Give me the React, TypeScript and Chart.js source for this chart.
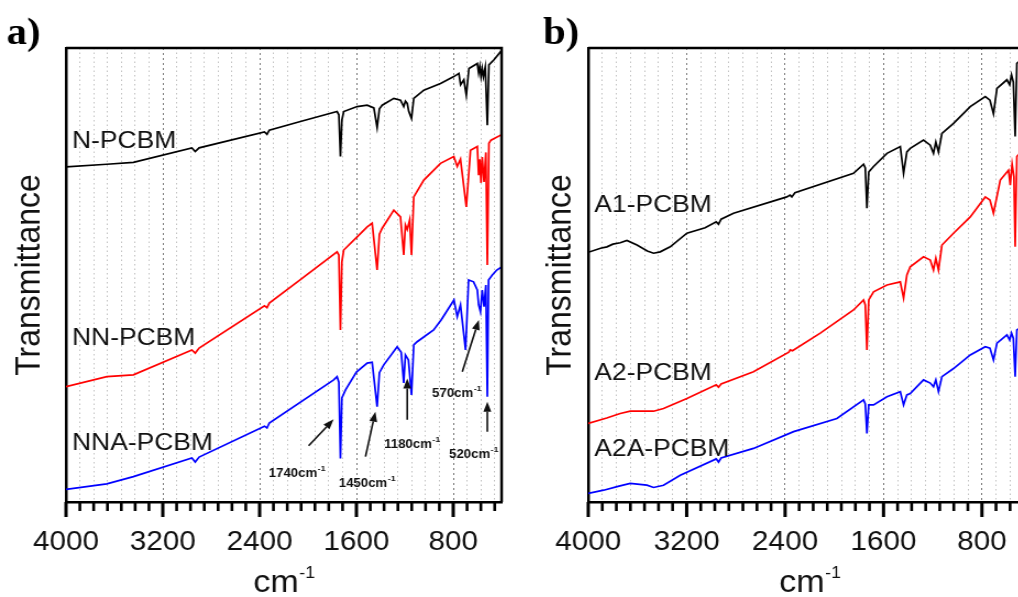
import React, { useEffect, useRef } from 'react';
import { Chart, registerables } from 'chart.js';

Chart.register(...registerables);

// ---------- axis definition ----------
const X_MIN = 400;
const X_MAX = 4000;
const MAJOR_STEP = 800;
const MINOR_PER_MAJOR = 6;
const xTickLabels = [4000, 3200, 2400, 1600, 800];

// ---------- panel a) ----------
const nPcbmX = [4000, 3663, 3443, 2960, 2932, 2900, 2360, 2339, 2320, 2063, 1760, 1745, 1732, 1720, 1705, 1594, 1511, 1456, 1429, 1410, 1387, 1291, 1236, 1209, 1195, 1180, 1167, 1145, 1126, 1043, 905, 795, 753, 739, 712, 692, 670, 601, 590, 580, 570, 560, 550, 535, 518, 505, 463, 408, 400];
const nPcbmY = [73.8, 74.4, 74.8, 78.0, 77.2, 78.0, 81.5, 81.0, 81.9, 83.8, 86.0, 85.3, 76.1, 84.1, 86.0, 87.1, 87.4, 86.8, 82.5, 86.6, 87.4, 88.9, 88.5, 87.1, 88.3, 87.8, 86.0, 84.5, 88.9, 90.7, 92.2, 93.7, 94.4, 91.9, 93.0, 89.6, 95.5, 96.6, 94.5, 96.0, 93.7, 95.5, 93.7, 95.8, 83.0, 96.3, 97.4, 99.2, 99.4];

const nnPcbmX = [4000, 3663, 3443, 2960, 2932, 2900, 2360, 2339, 2320, 2063, 1760, 1745, 1732, 1720, 1705, 1594, 1511, 1470, 1429, 1410, 1387, 1291, 1236, 1209, 1195, 1180, 1160, 1145, 1126, 1043, 905, 795, 767, 740, 692, 657, 601, 590, 580, 570, 560, 545, 530, 518, 505, 488, 408, 400];
const nnPcbmY = [25.4, 27.6, 28.0, 33.5, 32.8, 33.9, 43.2, 42.8, 43.8, 49.0, 55.1, 54.4, 37.9, 52.9, 55.5, 58.4, 60.6, 61.4, 51.1, 59.0, 60.3, 64.3, 62.8, 54.4, 61.0, 60.0, 62.1, 54.4, 67.2, 70.9, 74.6, 76.1, 73.9, 75.5, 65.0, 77.5, 78.3, 72.0, 75.5, 70.3, 76.0, 70.5, 77.0, 52.2, 79.0, 79.7, 80.8, 81.0];

const nnaPcbmX = [4000, 3663, 3443, 2960, 2932, 2900, 2360, 2339, 2320, 1788, 1760, 1745, 1732, 1720, 1690, 1600, 1511, 1470, 1429, 1410, 1374, 1263, 1230, 1209, 1195, 1170, 1145, 1126, 1098, 962, 900, 794, 767, 740, 698, 673, 632, 601, 590, 575, 560, 545, 530, 518, 508, 477, 440, 400];
const nnaPcbmY = [2.8, 4.0, 5.6, 9.7, 8.8, 9.9, 16.7, 16.3, 17.4, 26.9, 27.6, 26.4, 9.6, 22.9, 24.7, 28.6, 30.6, 30.8, 21.0, 28.5, 30.2, 34.2, 33.0, 26.2, 32.4, 31.3, 23.6, 34.6, 35.3, 37.9, 40.1, 44.5, 40.8, 43.4, 33.5, 48.9, 48.5, 46.7, 43.4, 41.9, 46.7, 43.0, 47.8, 23.2, 48.9, 50.0, 51.1, 51.8];

// ---------- panel b) ----------
const a1PcbmX = [4000, 3900, 3848, 3800, 3740, 3686, 3604, 3520, 3469, 3415, 3334, 3198, 3050, 2960, 2941, 2920, 2819, 2386, 2360, 2345, 2320, 1844, 1762, 1748, 1735, 1720, 1681, 1572, 1464, 1437, 1410, 1383, 1275, 1220, 1194, 1175, 1153, 1125, 1031, 895, 773, 735, 706, 678, 597, 575, 560, 545, 530, 516, 480, 440, 400];
const a1PcbmY = [55.0, 55.9, 56.2, 56.8, 57.1, 57.6, 56.6, 55.3, 54.8, 55.1, 56.2, 59.2, 60.4, 61.7, 61.2, 62.3, 63.6, 67.2, 67.6, 67.2, 68.1, 72.4, 74.4, 73.6, 64.7, 72.7, 73.9, 76.8, 78.3, 72.4, 77.1, 77.9, 79.7, 78.6, 76.8, 79.3, 77.1, 81.2, 83.4, 87.1, 89.3, 88.5, 85.5, 91.1, 93.0, 91.9, 94.1, 92.5, 80.5, 96.6, 97.4, 98.2, 99.1];

const a2PcbmX = [4000, 3850, 3740, 3659, 3469, 3388, 3198, 2960, 2941, 2920, 2657, 2370, 2358, 2340, 2114, 1844, 1762, 1748, 1735, 1720, 1681, 1572, 1464, 1437, 1410, 1383, 1275, 1220, 1194, 1175, 1153, 1125, 1031, 895, 773, 735, 706, 651, 584, 570, 555, 540, 530, 516, 480, 440, 400];
const a2PcbmY = [17.3, 18.5, 19.5, 20.0, 20.0, 20.6, 22.8, 25.8, 25.3, 26.0, 28.7, 33.0, 33.5, 33.3, 37.2, 42.3, 44.5, 43.4, 33.5, 44.5, 46.3, 47.8, 48.5, 44.9, 50.0, 51.8, 54.0, 53.3, 51.1, 53.7, 51.1, 56.6, 59.2, 62.8, 67.2, 66.5, 63.6, 70.9, 73.1, 69.8, 74.4, 71.6, 56.2, 76.1, 77.1, 78.0, 78.9];

const a2aPcbmX = [4000, 3875, 3750, 3659, 3523, 3469, 3388, 3252, 2960, 2941, 2920, 2657, 2331, 1979, 1762, 1748, 1735, 1720, 1681, 1572, 1464, 1437, 1410, 1383, 1275, 1220, 1194, 1175, 1153, 1125, 1031, 895, 773, 735, 706, 678, 597, 575, 560, 545, 530, 516, 480, 440, 400];
const a2aPcbmY = [1.9, 2.6, 3.5, 4.1, 3.7, 3.2, 3.7, 5.9, 9.5, 8.8, 9.7, 11.8, 15.5, 18.4, 22.5, 21.6, 15.1, 21.4, 21.4, 23.2, 24.3, 21.4, 23.6, 23.9, 26.9, 26.2, 25.4, 26.9, 24.3, 27.6, 29.4, 32.4, 34.2, 33.9, 31.3, 35.0, 36.8, 35.7, 37.2, 36.1, 27.6, 37.9, 38.5, 39.2, 40.1];

// ---------- series labels ----------
const panelANames = ['N-PCBM', 'NN-PCBM', 'NNA-PCBM'];
const panelANameY = [77.9, 34.6, 11.5];
const panelBNames = ['A1-PCBM', 'A2-PCBM', 'A2A-PCBM'];
const panelBNameY = [63.9, 26.9, 10.2];
const nameX = 3950;

// ---------- peak annotations (panel a) ----------
const peakLabels = ['1740', '1450', '1180', '570', '520'];
const peakLabelX = [2092, 1513, 1141, 772, 632];
const peakLabelY = [5.6, 3.4, 12.0, 23.2, 9.6];
const arrowFromX = [1995, 1525, 1180, 725, 518];
const arrowFromY = [12.4, 10.0, 18.1, 28.7, 15.5];
const arrowToX = [1788, 1443, 1180, 588, 518];
const arrowToY = [18.2, 19.9, 27.2, 40.1, 22.1];

const SERIES_COLORS = ['#000000', '#ff0000', '#0000ff'];
const S = 1.1; // horizontal stretch of the original figure
const FONT = "'Liberation Sans', Arial, sans-serif";

function buildTicks() {
  const out: { value: number }[] = [];
  for (let k = 0; ; k++) {
    const v = X_MAX - (k * MAJOR_STEP) / (MINOR_PER_MAJOR + 1);
    if (v < X_MIN - 1e-9) break;
    out.push({ value: v });
  }
  return out;
}
const isMajor = (v: number) => xTickLabels.some((t) => Math.abs(t - v) < 1e-6);

function drawSup(ctx: CanvasRenderingContext2D, cx: number, baseline: number, base: string, sup: string, baseFont: string, supFont: string, rise: number) {
  ctx.font = baseFont;
  const wb = ctx.measureText(base).width;
  ctx.font = supFont;
  const ws = ctx.measureText(sup).width;
  const x0 = cx - (wb + ws) / 2;
  ctx.textAlign = 'left';
  ctx.textBaseline = 'alphabetic';
  ctx.font = baseFont;
  ctx.fillText(base, x0, baseline);
  ctx.font = supFont;
  ctx.fillText(sup, x0 + wb + 0.5, baseline - rise);
}

function drawArrow(ctx: CanvasRenderingContext2D, x1: number, y1: number, x2: number, y2: number) {
  const ang = Math.atan2(y2 - y1, x2 - x1);
  const hl = 10, hw = 3.6;
  const bx = x2 - hl * Math.cos(ang), by = y2 - hl * Math.sin(ang);
  ctx.lineWidth = 1.6;
  ctx.beginPath();
  ctx.moveTo(x1, y1);
  ctx.lineTo(bx, by);
  ctx.stroke();
  ctx.beginPath();
  ctx.moveTo(x2, y2);
  ctx.lineTo(bx + hw * Math.sin(ang), by - hw * Math.cos(ang));
  ctx.lineTo(bx - hw * Math.sin(ang), by + hw * Math.cos(ang));
  ctx.closePath();
  ctx.fill();
}

type Panel = {
  letter: string;
  letterX: number;
  names: string[];
  nameY: number[];
  series: { x: number[]; y: number[] }[];
  yAxisWidth: number;
  titlePad: number;
  padRight: number;
  annotations: boolean;
};

function decorPlugin(p: Panel) {
  return {
    id: 'decor',
    afterDraw(chart: any) {
      const { ctx, chartArea: ca, scales } = chart;
      const xs = scales.x, ys = scales.y;
      ctx.save();
      // bottom axis tick marks: long majors, short minors
      ctx.strokeStyle = '#000';
      xs.ticks.forEach((t: any) => {
        const px = xs.getPixelForValue(t.value);
        const major = isMajor(t.value);
        ctx.lineWidth = major ? 3 : 2.6;
        ctx.beginPath();
        ctx.moveTo(px, ca.bottom);
        ctx.lineTo(px, ca.bottom + (major ? 15 : 9));
        ctx.stroke();
      });
      // frame (top & right)
      ctx.lineWidth = 2.5;
      ctx.beginPath();
      ctx.moveTo(ca.left, ca.top);
      ctx.lineTo(ca.right, ca.top);
      ctx.lineTo(ca.right, ca.bottom);
      ctx.stroke();
      // panel letter
      ctx.fillStyle = '#000';
      ctx.textAlign = 'left';
      ctx.textBaseline = 'alphabetic';
      ctx.font = "bold 37px 'Liberation Serif', 'Times New Roman', serif";
      ctx.fillText(p.letter, p.letterX, 44);
      // series labels
      ctx.fillStyle = '#111';
      ctx.font = `24px ${FONT}`;
      p.names.forEach((n, i) => {
        ctx.fillText(n, xs.getPixelForValue(nameX), ys.getPixelForValue(p.nameY[i]));
      });
      // x title cm^-1
      drawSup(ctx, (ca.left + ca.right) / 2, 592, 'cm', '-1', `31px ${FONT}`, `16px ${FONT}`, 14);
      // peak annotations
      if (p.annotations) {
        ctx.fillStyle = '#111';
        ctx.strokeStyle = '#111';
        peakLabels.forEach((lab, i) => {
          drawArrow(ctx, xs.getPixelForValue(arrowFromX[i]), ys.getPixelForValue(arrowFromY[i]), xs.getPixelForValue(arrowToX[i]), ys.getPixelForValue(arrowToY[i]));
          drawSup(ctx, xs.getPixelForValue(peakLabelX[i]), ys.getPixelForValue(peakLabelY[i]), lab + 'cm', '-1', `bold 12px ${FONT}`, `bold 8px ${FONT}`, 6);
        });
      }
      ctx.restore();
    },
  };
}

function makeChart(canvas: HTMLCanvasElement, p: Panel) {
  return new Chart(canvas, {
    type: 'line',
    data: {
      datasets: p.series.map((s, i) => ({
        label: p.names[i],
        data: s.x.map((x, j) => ({ x, y: s.y[j] })),
        borderColor: SERIES_COLORS[i],
        backgroundColor: SERIES_COLORS[i],
        borderWidth: 1.7,
        pointRadius: 0,
        tension: 0,
        fill: false,
      })),
    },
    options: {
      animation: false,
      responsive: false,
      devicePixelRatio: 1,
      events: [],
      layout: { padding: { left: 0, right: p.padRight, top: 48, bottom: 0 } },
      plugins: { legend: { display: false }, tooltip: { enabled: false }, title: { display: false } },
      scales: {
        x: {
          type: 'linear',
          reverse: true,
          min: X_MIN,
          max: X_MAX,
          afterBuildTicks: (sc: any) => {
            sc.ticks = buildTicks();
          },
          afterFit: (sc: any) => {
            sc.height = 95;
          },
          ticks: {
            autoSkip: false,
            maxRotation: 0,
            minRotation: 0,
            padding: 10,
            color: '#111',
            font: { family: FONT, size: 27 },
            callback: (v: any) => (isMajor(Number(v)) ? String(Math.round(Number(v))) : ''),
          },
          grid: {
            display: true,
            drawOnChartArea: true,
            drawTicks: true,
            tickLength: 14,
            lineWidth: 1,
            color: (c: any) => (c.tick && isMajor(c.tick.value) ? '#7a7a7a' : '#c2c2c2'),
            tickColor: 'rgba(0,0,0,0)',
          },
          border: {
            display: true,
            color: '#000',
            width: 2.5,
            dash: (c: any) => (c.tick ? (isMajor(c.tick.value) ? [2, 3] : [1.5, 3]) : []),
          },
        },
        y: {
          type: 'linear',
          min: 0,
          max: 100,
          afterFit: (sc: any) => {
            sc.width = p.yAxisWidth;
          },
          ticks: { display: false },
          grid: { display: false },
          border: { display: true, color: '#000', width: 2.5 },
          title: {
            display: true,
            text: 'Transmittance',
            color: '#111',
            font: { family: FONT, size: 32 },
            padding: { top: p.titlePad, bottom: 0 },
          },
        },
      },
    } as any,
    plugins: [decorPlugin(p) as any],
  });
}

const panelA: Panel = {
  letter: 'a)',
  letterX: 6,
  names: panelANames,
  nameY: panelANameY,
  series: [
    { x: nPcbmX, y: nPcbmY },
    { x: nnPcbmX, y: nnPcbmY },
    { x: nnaPcbmX, y: nnaPcbmY },
  ],
  yAxisWidth: 60,
  titlePad: 8,
  padRight: 14,
  annotations: true,
};

const panelB: Panel = {
  letter: 'b)',
  letterX: 21,
  names: panelBNames,
  nameY: panelBNameY,
  series: [
    { x: a1PcbmX, y: a1PcbmY },
    { x: a2PcbmX, y: a2PcbmY },
    { x: a2aPcbmX, y: a2aPcbmY },
  ],
  yAxisWidth: 62,
  titlePad: 18,
  padRight: 13.5,
  annotations: false,
};

const WA = 470;
const WB = 478;
const H = 597;

export default function App() {
  const refA = useRef<HTMLCanvasElement>(null);
  const refB = useRef<HTMLCanvasElement>(null);
  useEffect(() => {
    const a = makeChart(refA.current!, panelA);
    const b = makeChart(refB.current!, panelB);
    return () => {
      a.destroy();
      b.destroy();
    };
  }, []);
  return (
    <div style={{ position: 'fixed', left: 0, top: 0, width: 1018, height: 597, overflow: 'hidden', background: '#fff' }}>
      <canvas ref={refA} width={WA} height={H} style={{ position: 'absolute', left: 0, top: 0, width: WA * S, height: H }} />
      <canvas ref={refB} width={WB} height={H} style={{ position: 'absolute', left: 520, top: 0, width: WB * S, height: H }} />
    </div>
  );
}
